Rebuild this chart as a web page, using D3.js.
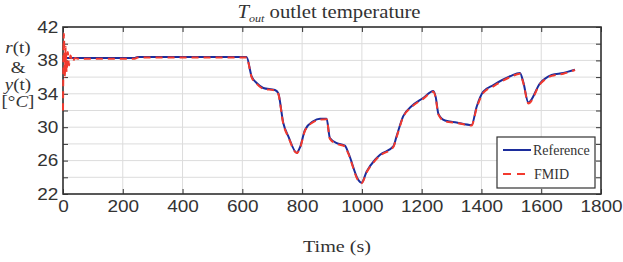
<!DOCTYPE html>
<html>
<head>
<meta charset="utf-8">
<script src="https://cdn.jsdelivr.net/npm/d3@7"></script>
<style>
  body { margin: 0; background: #fff; }
  svg { display: block; }
  .tick text { font-family: "Liberation Sans", Arial, sans-serif; font-size: 16.5px; fill: #333; }
</style>
</head>
<body>
<div id="chart-area"></div>
<script>
// reference r(t)
var refTime = [0, 240, 250, 614, 631, 648, 670, 709, 720, 737, 754, 782, 793, 810, 837, 860, 882, 893, 916, 943, 955, 988, 999, 1016, 1044, 1061, 1105, 1116, 1138, 1166, 1205, 1239, 1247, 1256, 1278, 1317, 1367, 1384, 1406, 1440, 1496, 1529, 1540, 1557, 1596, 1635, 1674, 1713];
var refTemp = [38.3, 38.3, 38.4, 38.4, 36.1, 35.3, 34.7, 34.45, 34.1, 30.5, 28.9, 26.95, 27.6, 29.7, 30.7, 31.0, 31.0, 28.7, 28.1, 27.8, 26.9, 23.7, 23.35, 24.7, 26.1, 26.7, 27.7, 28.9, 31.3, 32.5, 33.5, 34.35, 33.6, 31.6, 30.8, 30.55, 30.25, 32.45, 34.25, 35.05, 36.1, 36.5, 35.4, 32.95, 35.25, 36.25, 36.5, 36.9];

// FMID output y(t)
var fmidTime = [0, 3, 6, 9, 12, 16, 20, 25, 32, 40, 50, 240, 250, 614, 631, 648, 670, 709, 720, 737, 754, 782, 793, 810, 837, 860, 882, 893, 916, 943, 955, 988, 999, 1016, 1044, 1061, 1105, 1116, 1138, 1166, 1205, 1239, 1247, 1256, 1278, 1317, 1367, 1384, 1406, 1440, 1496, 1529, 1540, 1557, 1596, 1635, 1674, 1713];
var fmidTemp = [32.0, 41.2, 36.0, 39.6, 36.6, 39.0, 37.4, 38.6, 37.8, 38.3, 38.2, 38.2, 38.35, 38.35, 36.0, 35.2, 34.6, 34.4, 34.0, 30.4, 28.8, 26.9, 27.5, 29.6, 30.6, 30.9, 30.95, 28.6, 28.0, 27.7, 26.8, 23.6, 23.3, 24.6, 26.0, 26.6, 27.6, 28.8, 31.2, 32.4, 33.4, 34.25, 33.5, 31.5, 30.7, 30.5, 30.2, 32.3, 34.1, 34.9, 36.0, 36.4, 35.3, 32.85, 35.15, 36.15, 36.4, 36.85];

var xTicks = [0, 200, 400, 600, 800, 1000, 1200, 1400, 1600, 1800];
var yTicks = [22, 26, 30, 34, 38, 42];
var yGrid = [22, 24, 26, 28, 30, 32, 34, 36, 38, 40, 42];

var margin = { left: 63, right: 22, top: 27, bottom: 68 };
var width = 623 - margin.left - margin.right,
    height = 262 - margin.top - margin.bottom;

// the original figure is a bit stretched sideways
var stretch = "scale(1.15,1)";

var canvas = d3.select("#chart-area")
  .append("svg")
  .attr("width", 623)
  .attr("height", 262);

var g = canvas.append("g")
  .attr("transform", "translate(" + margin.left + "," + margin.top + ")");

var xScale = d3.scaleLinear().domain([0, 1800]).range([0, width]);
var yScale = d3.scaleLinear().domain([22, 42]).range([height, 0]);

// grid
g.selectAll(".vgrid").data(xTicks).enter().append("line")
  .attr("x1", d => xScale(d)).attr("x2", d => xScale(d))
  .attr("y1", 0).attr("y2", height)
  .attr("stroke", "#dcdcdc").attr("stroke-width", 1);
g.selectAll(".hgrid").data(yGrid).enter().append("line")
  .attr("x1", 0).attr("x2", width)
  .attr("y1", d => yScale(d)).attr("y2", d => yScale(d))
  .attr("stroke", "#dcdcdc").attr("stroke-width", 1);

// axes, MATLAB style inward ticks
var bottomAxis = d3.axisBottom(xScale).tickValues(xTicks).tickSizeInner(-5).tickSizeOuter(0).tickPadding(6)
  .tickFormat(d3.format("d"));
var topAxis = d3.axisTop(xScale).tickValues(xTicks).tickSizeInner(-5).tickSizeOuter(0).tickFormat("");
var leftAxis = d3.axisLeft(yScale).tickValues(yGrid).tickSizeInner(-5).tickSizeOuter(0).tickPadding(4)
  .tickFormat(d => yTicks.indexOf(d) >= 0 ? d : "");
var rightAxis = d3.axisRight(yScale).tickValues(yGrid).tickSizeInner(-5).tickSizeOuter(0).tickFormat("");

g.append("g").attr("class", "x axis").attr("transform", "translate(0," + height + ")").call(bottomAxis);
g.append("g").attr("class", "x axis").call(topAxis);
g.append("g").attr("class", "y axis").call(leftAxis);
g.append("g").attr("class", "y axis").attr("transform", "translate(" + width + ",0)").call(rightAxis);

g.selectAll(".axis path.domain").remove();
g.selectAll(".axis line").attr("stroke", "#333");
g.selectAll(".axis .tick text").attr("transform", stretch);

// box
g.append("rect")
  .attr("width", width).attr("height", height)
  .attr("fill", "none").attr("stroke", "#333").attr("stroke-width", 1.6);

// lines
var refLine = d3.line().x((d, i) => xScale(refTime[i])).y(d => yScale(d)).curve(d3.curveMonotoneX);
var fmidLine = d3.line().x((d, i) => xScale(fmidTime[i])).y(d => yScale(d)).curve(d3.curveMonotoneX);

g.append("path").datum(refTemp)
  .attr("d", refLine)
  .attr("fill", "none").attr("stroke", "#1c2d9c").attr("stroke-width", 2);

g.append("path").datum(fmidTemp)
  .attr("d", fmidLine)
  .attr("fill", "none").attr("stroke", "#f23a2e").attr("stroke-width", 2)
  .attr("stroke-dasharray", "7,5");

// legend
var leg = g.append("g").attr("transform", "translate(" + (width - 104) + "," + (height - 57) + ")");
leg.append("rect").attr("width", 98).attr("height", 51)
  .attr("fill", "#fff").attr("stroke", "#333").attr("stroke-width", 1.2);
leg.append("line").attr("x1", 6).attr("x2", 34).attr("y1", 13).attr("y2", 13)
  .attr("stroke", "#1c2d9c").attr("stroke-width", 2);
leg.append("line").attr("x1", 6).attr("x2", 34).attr("y1", 37).attr("y2", 37)
  .attr("stroke", "#f23a2e").attr("stroke-width", 2).attr("stroke-dasharray", "8,6");
leg.append("text").attr("x", 36).attr("y", 18).text("Reference")
  .attr("font-family", "Liberation Serif, serif").attr("font-size", "14px").attr("fill", "#333");
leg.append("text").attr("x", 37).attr("y", 42).text("FMID")
  .attr("font-family", "Liberation Serif, serif").attr("font-size", "14px").attr("fill", "#333");

// title
var title = canvas.append("text")
  .attr("transform", "translate(329,18) " + stretch)
  .attr("text-anchor", "middle")
  .attr("font-family", "Liberation Serif, serif").attr("font-size", "18px").attr("fill", "#333");
title.append("tspan").attr("font-style", "italic").text("T");
title.append("tspan").attr("font-style", "italic").attr("font-size", "10.5px").attr("dy", 4).text("out");
title.append("tspan").attr("dy", -4).text(" outlet temperature");

// x axis label
canvas.append("text")
  .attr("transform", "translate(337,252) " + stretch)
  .attr("text-anchor", "middle")
  .attr("font-family", "Liberation Serif, serif").attr("font-size", "17.5px").attr("fill", "#333")
  .text("Time (s)");

// y axis label, stacked in one text block
var ylab = canvas.append("text")
  .attr("transform", "translate(18,0) " + stretch)
  .attr("font-family", "Liberation Serif, serif").attr("font-size", "16.5px").attr("fill", "#333")
  .attr("text-anchor", "middle");
ylab.append("tspan").attr("x", 0).attr("y", 53).attr("font-style", "italic").text("r");
ylab.append("tspan").text("(t)");
ylab.append("tspan").attr("x", 0).attr("y", 73).text("&");
ylab.append("tspan").attr("x", 0).attr("y", 90).attr("font-style", "italic").text("y");
ylab.append("tspan").text("(t)");
ylab.append("tspan").attr("x", 0).attr("y", 107.5).text("[°");
ylab.append("tspan").attr("font-style", "italic").text("C");
ylab.append("tspan").text("]");
</script>
</body>
</html>
